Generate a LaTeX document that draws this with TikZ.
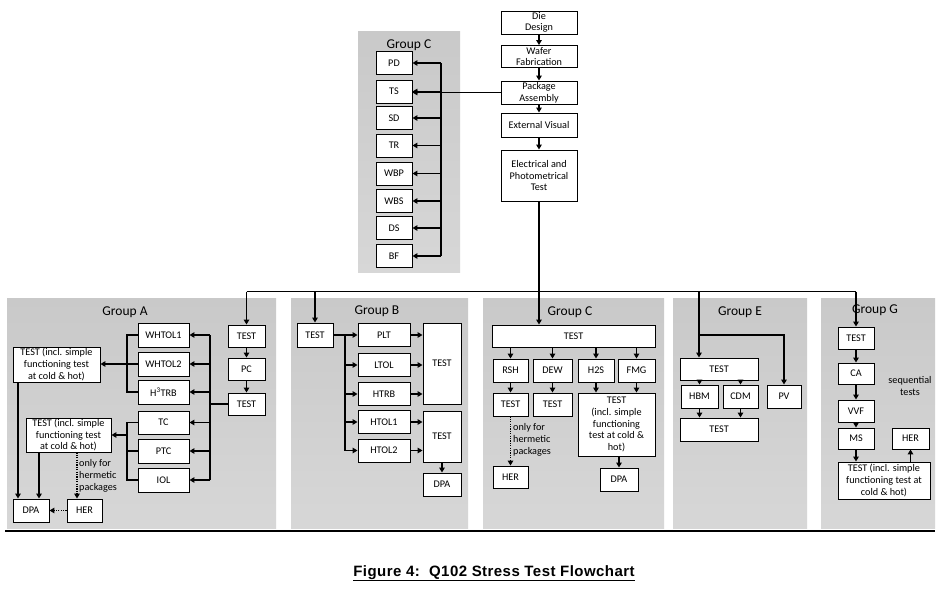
\documentclass[tikz,border=0pt]{standalone}
\usepackage{fontspec}
\setmainfont{Carlito}
\newfontfamily\capfont[LetterSpace=3]{Liberation Sans}
\usetikzlibrary{arrows.meta}
\definecolor{pnltop}{HTML}{C9C9C9}
\definecolor{pnlbot}{HTML}{D7D7D7}
\begin{document}
\begin{tikzpicture}[x=1pt,y=-1pt,
  bx/.style={draw, line width=0.9pt, fill=white, align=center, inner sep=0.5pt, font=\fontsize{10.2}{11.7}\selectfont},
  wh/.style 2 args={minimum width=#1pt, minimum height=#2pt},
  conn/.style={line width=1.3pt},
  arr/.style={conn, -{Triangle[length=5pt,width=5.5pt]}},
  dotline/.style={line width=1.3pt, dash pattern=on 1.2pt off 1.2pt},
  darr/.style={dotline, -{Triangle[length=5pt,width=5.5pt]}},
  panel/.style={top color=pnltop, bottom color=pnlbot, draw=none},
  ttl/.style={font=\fontsize{13.5}{15}\selectfont, inner sep=0pt},
  notetext/.style={font=\fontsize{10.2}{12}\selectfont, align=left, inner sep=0pt, anchor=west}]
\useasboundingbox (0,0) rectangle (942,590);
\fill[white] (0,0) rectangle (942,590);
% panels
\fill[panel] (358,31) rectangle (460,272);
\fill[panel] (7,298) rectangle (276,528);
\fill[panel] (291,298) rectangle (468,528);
\fill[panel] (483,298) rectangle (664,528);
\fill[panel] (673,298) rectangle (807,528);
\fill[panel] (821,298) rectangle (935,528);
% titles
\node[ttl] (tC1) at (409,45) {Group C};
\node[ttl] (tA) at (125,312) {Group A};
\node[ttl] (tB) at (377,311) {Group B};
\node[ttl] (tC2) at (570,312) {Group C};
\node[ttl] (tE) at (740,312) {Group E};
\node[ttl] (tG) at (875,310) {Group G};
% top chain
\node[bx, wh={76}{23}] (die) at (539,22.5) {Die\\Design};
\node[bx, wh={76}{22}] (wafer) at (539,56.5) {Wafer\\Fabrication};
\node[bx, wh={76}{23}] (pkg) at (539,92.5) {Package\\Assembly};
\node[bx, wh={76}{24}] (ext) at (539,125) {External Visual};
\node[bx, wh={76}{51}] (elec) at (539,175.5) {Electrical and\\Photometrical\\Test};
\draw[arr] (die.south) -- (wafer.north);
\draw[arr] (wafer.south) -- (pkg.north);
\draw[arr] (pkg.south) -- (ext.north);
\draw[arr] (ext.south) -- (elec.north);
% group C top
\foreach \n/\t/\y in {pd/PD/63, ts/TS/91.5, sd/SD/118, tr/TR/145.5, wbp/WBP/173.5, wbs/WBS/201, ds/DS/228, bf/BF/256}
  \node[bx, wh={36}{23}] (\n) at (394,\y) {\t};
\coordinate (cbus) at (441,0);
\draw[conn] (pd.east -| cbus) -- (bf.east -| cbus);
\foreach \n in {pd,ts,sd,tr,wbp,wbs,ds,bf}
  \draw[arr] (\n.east -| cbus) -- (\n.east);
\draw[arr] (pkg.west) -- (pkg.west -| ts.east);
% group A
\node[bx, wh={37}{22}] (atest) at (246.5,336) {TEST};
\node[bx, wh={37}{22}] (apc) at (246.5,369) {PC};
\node[bx, wh={37}{22}] (atest2) at (246.5,404) {TEST};
\node[bx, wh={51}{24}] (whtol1) at (163.5,335) {WHTOL1};
\node[bx, wh={51}{24}] (whtol2) at (163.5,364) {WHTOL2};
\node[bx, wh={51}{24}] (h3trb) at (163.5,392) {H\textsuperscript{3}TRB};
\node[bx, wh={51}{23}] (tc) at (163.5,422.5) {TC};
\node[bx, wh={51}{24}] (ptc) at (163.5,451) {PTC};
\node[bx, wh={51}{24}] (iol) at (163.5,480) {IOL};
\node[bx, wh={87}{35}] (a1) at (56.5,364.5) {TEST (incl. simple\\functioning test\\at cold \& hot)};
\node[bx, wh={85}{34}] (a2) at (68.5,435) {TEST (incl. simple\\functioning test\\at cold \& hot)};
\node[bx, wh={36}{23}] (adpa) at (31,510.5) {DPA};
\node[bx, wh={35}{23}] (aher) at (84.5,510.5) {HER};
\node[notetext] (anote) at (79,476) {only for\\hermetic\\packages};
\draw[arr] (atest.south) -- (apc.north);
\draw[arr] (apc.south) -- (atest2.north);
\coordinate (abus) at (210,0);
\draw[conn] (atest2.west) -- (atest2.west -| abus);
\draw[conn] (whtol1.east -| abus) -- (iol.east -| abus);
\foreach \n in {whtol1,whtol2,h3trb,tc,ptc,iol}
  \draw[arr] (\n.east -| abus) -- (\n.east);
\coordinate (abr) at (127,0);
\draw[conn] (whtol1.west) -- (whtol1.west -| abr) -- (h3trb.west -| abr) -- (h3trb.west);
\draw[conn] (whtol2.west) -- (whtol2.west -| abr);
\draw[arr] (whtol2.west -| abr) -- (whtol2.west -| a1.east);
\draw[conn] (tc.west) -- (tc.west -| abr) -- (iol.west -| abr) -- (iol.west);
\draw[conn] (ptc.west) -- (ptc.west -| abr);
\draw[arr] (a2.east -| abr) -- (a2.east);
\coordinate (ax1) at (18,0);
\coordinate (ax2) at (39,0);
\coordinate (ax3) at (77,0);
\draw[arr] (a1.south -| ax1) -- (adpa.north -| ax1);
\draw[arr] (a2.south -| ax2) -- (adpa.north -| ax2);
\draw[darr] (a2.south -| ax3) -- (aher.north -| ax3);
\draw[darr] (aher.west) -- (adpa.east);
% group B
\node[bx, wh={36}{24}] (btest) at (315,335) {TEST};
\node[bx, wh={52}{23}] (plt) at (384,335) {PLT};
\node[bx, wh={52}{23}] (ltol) at (384,365) {LTOL};
\node[bx, wh={52}{23}] (htrb) at (384,394) {HTRB};
\node[bx, wh={52}{23}] (htol1) at (384,422) {HTOL1};
\node[bx, wh={52}{23}] (htol2) at (384,450.5) {HTOL2};
\node[bx, wh={38}{81}] (b1) at (442,363.5) {TEST};
\node[bx, wh={38}{51}] (b2) at (442,436.5) {TEST};
\node[bx, wh={38}{23}] (bdpa) at (442,484.5) {DPA};
\coordinate (bbus) at (345,0);
\draw[arr] (btest.east) -- (plt.west);
\draw[conn] (plt.west -| bbus) -- (htol2.west -| bbus);
\foreach \n in {ltol,htrb,htol1,htol2}
  \draw[arr] (\n.west -| bbus) -- (\n.west);
\foreach \n in {plt,ltol,htrb}
  \draw[arr] (\n.east) -- (\n.east -| b1.west);
\foreach \n in {htol1,htol2}
  \draw[arr] (\n.east) -- (\n.east -| b2.west);
\draw[arr] (b2.south) -- (bdpa.north);
% group C bottom
\node[bx, wh={163}{22}] (ctest) at (573.5,336) {TEST};
\node[bx, wh={35}{23}] (rsh) at (510.5,370.5) {RSH};
\node[bx, wh={39}{23}] (dew) at (552.5,370.5) {DEW};
\node[bx, wh={36}{23}] (h2s) at (596,370.5) {H2S};
\node[bx, wh={37}{23}] (fmg) at (636.5,370.5) {FMG};
\node[bx, wh={35}{23}] (ctr) at (510.5,404.5) {TEST};
\node[bx, wh={39}{23}] (ctd) at (552.5,404.5) {TEST};
\node[bx, wh={77}{63}] (cbig) at (616.5,424.5) {TEST\\(incl. simple\\functioning\\test at cold \&\\hot)};
\node[bx, wh={38}{23}] (cdpa) at (619,479.5) {DPA};
\node[bx, wh={35}{22}] (cher) at (510.5,477) {HER};
\node[notetext] (cnote) at (513,440) {only for\\hermetic\\packages};
\foreach \n in {rsh,dew,h2s,fmg}
  \draw[arr] (ctest.south -| \n) -- (\n.north);
\draw[arr] (rsh.south) -- (ctr.north);
\draw[arr] (dew.south) -- (ctd.north);
\draw[arr] (h2s.south) -- (h2s.south |- cbig.north);
\draw[arr] (fmg.south) -- (fmg.south |- cbig.north);
\draw[arr] (cbig.south -| cdpa) -- (cdpa.north);
\draw[darr] (ctr.south) -- (cher.north);
% group E
\node[bx, wh={78}{22}] (etest) at (719,369) {TEST};
\node[bx, wh={37}{23}] (hbm) at (699.5,396.5) {HBM};
\node[bx, wh={35}{23}] (cdm) at (740.5,396.5) {CDM};
\node[bx, wh={34}{23}] (pv) at (784,396.5) {PV};
\node[bx, wh={78}{23}] (etest2) at (719,429.5) {TEST};
\draw[arr] (etest.south -| hbm) -- (hbm.north);
\draw[arr] (etest.south -| cdm) -- (cdm.north);
\draw[arr] (hbm.south) -- (hbm.south |- etest2.north);
\draw[arr] (cdm.south) -- (cdm.south |- etest2.north);
% group G
\node[bx, wh={36}{22}] (gtest) at (856,338) {TEST};
\node[bx, wh={36}{21}] (gca) at (856,373.5) {CA};
\node[bx, wh={36}{22}] (gvvf) at (856,411) {VVF};
\node[bx, wh={36}{21}] (gms) at (856,438.5) {MS};
\node[bx, wh={37}{21}] (gher) at (910.5,438.5) {HER};
\node[bx, wh={92}{37}] (g2) at (884,480.5) {TEST (incl. simple\\functioning test at\\cold \& hot)};
\node[font=\fontsize{10.2}{12}\selectfont, align=center, inner sep=0pt] (seq) at (910,386) {sequential\\tests};
\draw[arr] (gtest.south) -- (gca.north);
\draw[arr] (gca.south) -- (gvvf.north);
\draw[arr] (gvvf.south) -- (gms.north);
\draw[arr] (gms.south) -- (gms.south |- g2.north);
\draw[arr] (g2.north -| gher) -- (gher.south);
% main bus
\coordinate (mb) at (0,291.5);
\coordinate (ebr) at (699,291.5);
\coordinate (ebr2) at (699,335);
\draw[arr] (elec.south) -- (elec.south |- ctest.north);
\draw[conn] (atest.north |- mb) -- (gtest.north |- mb);
\draw[arr] (atest.north |- mb) -- (atest.north);
\draw[arr] (btest.north |- mb) -- (btest.north);
\draw[arr] (gtest.north |- mb) -- (gtest.north);
\draw[arr] (ebr) -- (ebr |- etest.north);
\draw[arr] (ebr2) -- (ebr2 -| pv.north) -- (pv.north);
% bottom rule and caption
\draw[line width=2pt] (5,531) -- (935,531);
\node[font=\capfont\bfseries\fontsize{15}{18}\selectfont, inner sep=0pt] (cap) at (494,573) {Figure 4:\ \ Q102 Stress Test Flowchart};
\draw[line width=1.6pt] ([yshift=-3.5pt]cap.base west) -- ([yshift=-3.5pt]cap.base east);
\end{tikzpicture}
\end{document}
